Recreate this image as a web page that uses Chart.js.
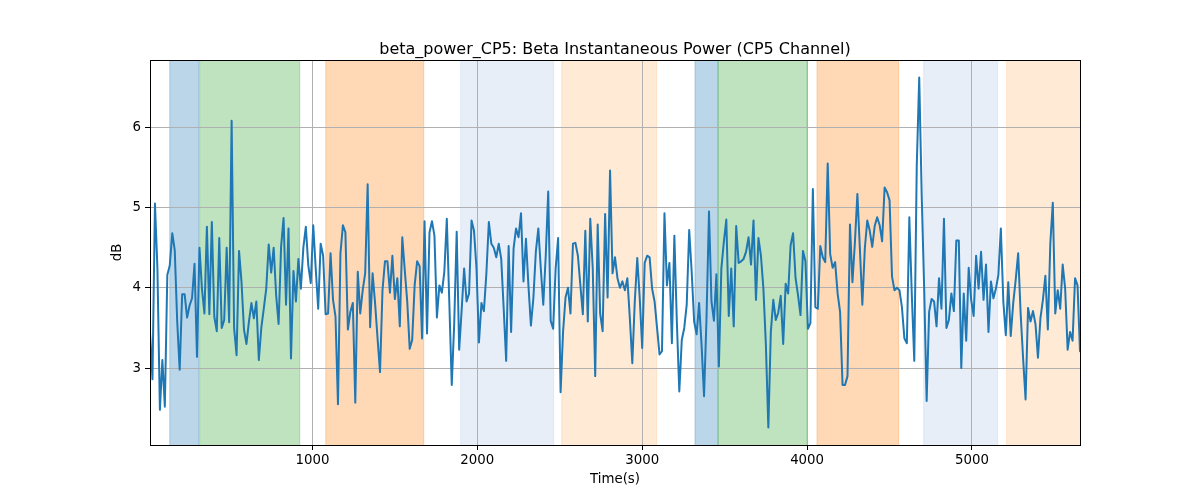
<!DOCTYPE html>
<html><head><meta charset="utf-8">
<script src="https://cdn.jsdelivr.net/npm/chart.js@4"></script>
<style>html,body{margin:0;padding:0;background:#fff;}#wrap{width:1200px;height:500px;}</style>
</head><body><div id="wrap"><canvas id="c" width="1200" height="500"></canvas></div>
<script>
// ---- data ----
const timeStart = 15;   // s, first sample
const timeStep = 15;    // s, sampling interval
const power = [
3.45,2.86,5.05,4.24,2.48,3.10,2.52,4.16,4.28,4.68,4.47,3.58,2.98,3.92,3.92,3.63,3.78,3.87,4.30,3.14,
4.50,3.99,3.68,4.76,3.67,4.82,3.64,3.46,4.62,3.50,3.60,4.50,3.57,6.08,3.50,3.16,4.46,4.07,3.48,3.30,
3.58,3.81,3.62,3.83,3.10,3.50,3.74,3.99,4.54,4.19,4.50,3.91,3.55,4.51,4.87,3.79,4.74,3.12,4.21,3.83,
4.36,
3.99,4.50,4.76,4.28,4.06,4.78,4.24,3.74,4.55,4.40,3.67,3.68,4.43,3.85,3.64,2.55,4.43,4.78,4.69,3.48,
3.70,3.81,2.57,4.20,3.68,3.97,4.18,5.29,3.51,4.18,3.81,3.37,2.95,3.97,4.33,4.33,3.94,4.40,3.86,4.12,
3.52,4.63,4.22,3.83,3.24,3.35,4.03,4.33,4.27,3.37,4.83,3.43,4.69,4.83,4.65,3.63,4.03,3.94,4.20,4.86,
3.83,2.79,3.56,
4.70,3.23,3.72,4.24,3.83,3.93,4.84,4.71,4.24,3.32,3.81,3.71,4.18,4.82,4.55,4.50,4.38,4.55,4.36,3.74,
3.09,4.52,3.45,4.49,4.74,4.63,4.93,4.08,4.61,4.03,3.53,3.87,4.45,4.74,4.24,3.79,4.40,5.20,3.59,3.49,
4.24,4.62,2.70,3.45,3.88,4.00,3.68,4.55,4.56,4.40,4.03,3.67,4.71,3.58,4.86,4.24,2.90,4.79,3.68,3.46,
4.92,3.88,
5.46,4.18,4.38,4.12,4.00,4.08,3.97,4.12,3.62,3.06,3.83,4.37,3.87,3.25,4.31,4.40,4.38,3.99,3.83,3.50,
3.17,3.21,4.93,4.03,4.31,3.31,4.65,3.58,2.71,3.35,3.50,3.79,4.72,4.20,3.58,3.42,3.81,3.29,2.65,3.62,
4.95,3.83,3.59,4.17,3.02,4.24,4.57,4.85,3.65,4.24,3.52,4.77,4.31,4.33,4.36,4.45,4.63,4.29,4.84,3.85,
4.62,4.40,3.99,
3.29,2.26,3.45,3.85,3.60,3.69,3.90,3.30,4.05,3.93,4.53,4.68,4.12,3.91,3.66,4.46,4.33,3.49,3.56,5.23,
3.76,3.74,4.52,4.38,4.32,5.55,4.42,4.25,4.32,3.93,3.70,2.79,2.79,2.90,4.79,4.07,4.57,5.17,4.49,3.79,
4.49,4.84,4.71,4.51,4.77,4.88,4.78,4.58,5.25,5.19,5.09,4.14,3.97,4.00,3.97,3.76,3.37,3.31,4.88,3.91,
3.09,5.52,6.62,5.15,
3.99,2.59,3.70,3.86,3.83,3.52,4.12,3.74,4.86,3.50,3.60,3.93,3.71,4.59,4.59,3.00,3.93,3.34,4.25,3.85,
3.65,4.40,3.99,4.45,3.85,4.29,3.45,4.08,3.87,3.99,4.16,4.74,3.83,3.41,4.07,3.40,3.81,4.10,4.43,3.68,
3.12,2.61,3.75,3.58,3.71,3.55,3.13,3.62,3.85,4.15,3.48,4.55,5.06,3.68,3.97,3.74,4.29,3.99,3.23,3.45,
3.34,4.12,4.03,3.21
];
const bandStart = [135, 316, 1081, 1899, 2512, 3320, 3460, 4060, 4707, 5210];
const bandEnd   = [310, 923, 1675, 2463, 3088, 3460, 3999, 4555, 5156, 5700];
const bandKind  = ['blue','green','orange','lightblue','lightorange','blue','green','orange','lightblue','lightorange'];
const xTicks = [1000, 2000, 3000, 4000, 5000];
const yTicks = [3, 4, 5, 6];
const titleText = 'beta_power_CP5: Beta Instantaneous Power (CP5 Channel)';
const xLabel = 'Time(s)';
const yLabel = 'dB';

// ---- styles ----
const bandColors = {
  blue: 'rgba(31,119,180,0.3)',
  green: 'rgba(44,160,44,0.3)',
  orange: 'rgba(255,127,14,0.3)',
  lightblue: 'rgba(174,199,232,0.3)',
  lightorange: 'rgba(255,187,120,0.3)'
};
const FONT = 'DejaVu Sans';

const times = power.map((_, i) => timeStart + i * timeStep);
const pts = power.map((v, i) => ({x: times[i], y: v}));
const lo = Math.min(...power), hi = Math.max(...power);
const pad = (hi - lo) * 0.05;

const bandsPlugin = {
  id: 'bands',
  beforeDraw(chart) {
    const {ctx, chartArea: a, scales: {x}} = chart;
    ctx.save();
    ctx.beginPath();
    ctx.rect(a.left, a.top, a.right - a.left, a.bottom - a.top);
    ctx.clip();
    for (let i = 0; i < bandStart.length; i++) {
      const x1 = x.getPixelForValue(bandStart[i]);
      const x2 = x.getPixelForValue(bandEnd[i]);
      const col = bandColors[bandKind[i]];
      ctx.fillStyle = col;
      ctx.fillRect(x1, a.top, x2 - x1, a.bottom - a.top);
      ctx.strokeStyle = col;
      ctx.lineWidth = 1;
      ctx.beginPath();
      ctx.moveTo(x1, a.top); ctx.lineTo(x1, a.bottom);
      ctx.moveTo(x2, a.top); ctx.lineTo(x2, a.bottom);
      ctx.stroke();
    }
    ctx.restore();
  }
};
const spinePlugin = {
  id: 'spines',
  afterDatasetsDraw(chart) {
    const {ctx, chartArea: a} = chart;
    ctx.save();
    ctx.strokeStyle = '#000';
    ctx.lineWidth = 1;
    ctx.strokeRect(Math.round(a.left) + 0.5, Math.round(a.top) + 0.5,
                   Math.round(a.right - a.left), Math.round(a.bottom - a.top));
    ctx.restore();
  },
  afterDraw(chart) {
    const {ctx, chartArea: a} = chart;
    ctx.save();
    ctx.fillStyle = '#000';
    ctx.font = '16px "' + FONT + '"';
    ctx.textAlign = 'center';
    ctx.textBaseline = 'alphabetic';
    ctx.fillText(titleText, (a.left + a.right) / 2, a.top - 6);
    ctx.restore();
  }
};

new Chart(document.getElementById('c'), {
  type: 'line',
  data: {datasets: [{data: pts, borderColor: '#1f77b4', borderWidth: 2, pointRadius: 0,
                     tension: 0, fill: false, borderJoinStyle: 'round', borderCapStyle: 'round'}]},
  options: {
    responsive: false, animation: false, devicePixelRatio: 1,
    layout: {padding: {left: 0, right: 120, top: 60, bottom: 0}},
    plugins: {
      legend: {display: false}, tooltip: {enabled: false}, title: {display: false}
    },
    scales: {
      x: {
        type: 'linear', min: times[0], max: times[times.length - 1],
        afterBuildTicks: s => { s.ticks = xTicks.map(v => ({value: v})); },
        afterFit: s => { s.height = 55; },
        grid: {color: '#b0b0b0', lineWidth: 1, tickColor: '#000', tickLength: 5, drawTicks: true},
        border: {display: false},
        ticks: {color: '#000', font: {family: FONT, size: 13.33}, padding: 3, maxRotation: 0,
                autoSkip: false, callback: v => String(v)},
        title: {display: true, text: xLabel, color: '#000', font: {family: FONT, size: 13.33},
                padding: {top: 0, bottom: 12}}
      },
      y: {
        type: 'linear', min: lo - pad, max: hi + pad,
        afterBuildTicks: s => { s.ticks = yTicks.map(v => ({value: v})); },
        afterFit: s => { s.width = 150; },
        grid: {color: '#b0b0b0', lineWidth: 1, tickColor: '#000', tickLength: 5, drawTicks: true},
        border: {display: false},
        ticks: {color: '#000', font: {family: FONT, size: 13.33}, padding: 4, autoSkip: false,
                callback: v => String(v)},
        title: {display: true, text: yLabel, color: '#000', font: {family: FONT, size: 13.33},
                padding: {top: 110, bottom: 0}}
      }
    }
  },
  plugins: [bandsPlugin, spinePlugin]
});
</script></body></html>
